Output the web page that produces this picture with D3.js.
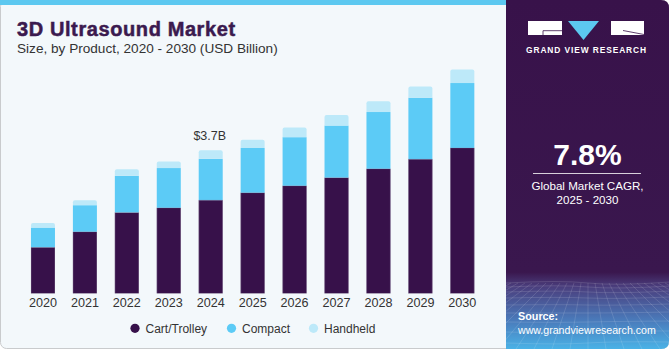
<!DOCTYPE html>
<html>
<head>
<meta charset="utf-8">
<script src="https://cdn.jsdelivr.net/npm/d3@7"></script>
<style>
  html, body { margin: 0; padding: 0; background: #ffffff; }
  svg { display: block; font-family: "Liberation Sans", Arial, sans-serif; }
</style>
</head>
<body>
<svg id="chart" width="671" height="350"></svg>
<script>
// ---- data ----
const years = ["2020","2021","2022","2023","2024","2025","2026","2027","2028","2029","2030"];
const cartTrolley = [1.19, 1.59, 2.09, 2.21, 2.41, 2.60, 2.78, 2.99, 3.22, 3.47, 3.76];
const compact     = [0.51, 0.69, 0.95, 1.03, 1.07, 1.16, 1.26, 1.35, 1.47, 1.59, 1.68];
const handheld    = [0.12, 0.13, 0.17, 0.17, 0.22, 0.21, 0.25, 0.27, 0.28, 0.29, 0.35];
const seriesNames = ["Cart/Trolley", "Compact", "Handheld"];
const seriesColors = ["#37114a", "#5ccbf6", "#bde9f9"];
const annotationYear = "2024";
const annotationText = "$3.7B";

const svg = d3.select("#chart");
const W = 671, H = 350;

// ---- card background ----
svg.append("rect").attr("x", 0.5).attr("y", 0.5).attr("width", W - 3).attr("height", H - 2)
  .attr("rx", 6).attr("fill", "#f3f8fb").attr("stroke", "#c9cbcd").attr("stroke-width", 1);
svg.append("rect").attr("x", 0).attr("y", 0).attr("width", 508).attr("height", 5).attr("fill", "#5cc8f0");

// ---- right panel ----
const defs = svg.append("defs");
const grad = defs.append("linearGradient").attr("id", "pg").attr("x1", 0).attr("y1", 0).attr("x2", 0).attr("y2", 1);
grad.append("stop").attr("offset", "0").attr("stop-color", "#38124a");
grad.append("stop").attr("offset", "0.78").attr("stop-color", "#3a174e");
grad.append("stop").attr("offset", "0.82").attr("stop-color", "#4a3d7c");
grad.append("stop").attr("offset", "0.92").attr("stop-color", "#4a7cbc");
grad.append("stop").attr("offset", "1").attr("stop-color", "#4ab2e6");
const clip = defs.append("clipPath").attr("id", "pc");
const panelPath = "M506,0 H661 Q669,0 669,8 V341 Q669,349 661,349 H506 Z";
clip.append("path").attr("d", panelPath);
svg.append("path").attr("d", panelPath).attr("fill", "url(#pg)");

// grid texture at bottom of panel
const gridG = svg.append("g").attr("clip-path", "url(#pc)")
  .attr("stroke", "#ffffff").attr("stroke-opacity", 0.18).attr("stroke-width", 0.7).attr("fill", "none");
const hz = [283, 287, 292, 298, 305, 313, 322, 332, 343];
hz.forEach((yy, i) => {
  gridG.append("path").attr("d", `M506,${yy} Q560,${yy - 3 + i * 0.6} 588,${yy} T670,${yy - 1}`);
});
for (let k = -14; k <= 14; k++) {
  const x0 = 588 + k * 7;
  const x1 = 588 + k * 18;
  gridG.append("line").attr("x1", x0).attr("y1", 283).attr("x2", x1).attr("y2", 349);
}

// logo
const logo = svg.append("g");
logo.append("rect").attr("x", 528).attr("y", 21).attr("width", 34).attr("height", 14).attr("fill", "#ffffff");
logo.append("path").attr("d", "M543,35 V30.7 H562").attr("stroke", "#38124a").attr("stroke-width", 0.8).attr("fill", "none");
logo.append("path").attr("d", "M568,21 H599 L583.5,40 Z").attr("fill", "#5cc8f0");
logo.append("rect").attr("x", 611).attr("y", 21).attr("width", 33).attr("height", 14).attr("fill", "#ffffff");
logo.append("path").attr("d", "M623,30.5 L644,34.5").attr("stroke", "#38124a").attr("stroke-width", 0.8);
svg.append("text").attr("x", 586.5).attr("y", 53).attr("text-anchor", "middle")
  .attr("fill", "#ffffff").attr("font-size", 8.4).attr("font-weight", "bold").attr("letter-spacing", 0.9)
  .text("GRAND VIEW RESEARCH");

// CAGR block
svg.append("text").attr("x", 587.5).attr("y", 165).attr("text-anchor", "middle")
  .attr("fill", "#ffffff").attr("font-size", 30).attr("font-weight", "bold").text("7.8%");
svg.append("line").attr("x1", 533).attr("x2", 641).attr("y1", 173.5).attr("y2", 173.5)
  .attr("stroke", "#ffffff").attr("stroke-opacity", 0.8).attr("stroke-width", 1);
svg.append("text").attr("x", 587.5).attr("y", 189.5).attr("text-anchor", "middle")
  .attr("fill", "#ffffff").attr("font-size", 11.6).text("Global Market CAGR,");
svg.append("text").attr("x", 587.5).attr("y", 203.5).attr("text-anchor", "middle")
  .attr("fill", "#ffffff").attr("font-size", 11.6).text("2025 - 2030");

svg.append("text").attr("x", 518).attr("y", 319.5).attr("fill", "#ffffff")
  .attr("font-size", 10.8).attr("font-weight", "bold").text("Source:");
svg.append("text").attr("x", 518).attr("y", 333.5).attr("fill", "#ffffff")
  .attr("font-size", 10.6).text("www.grandviewresearch.com");

// ---- titles ----
svg.append("text").attr("x", 17).attr("y", 35.5).attr("fill", "#3b1a4f")
  .attr("stroke", "#3b1a4f").attr("stroke-width", 0.5)
  .attr("font-size", 20).attr("font-weight", "bold").attr("letter-spacing", 0.6).text("3D Ultrasound Market");
svg.append("text").attr("x", 17).attr("y", 53.3).attr("fill", "#333333")
  .attr("font-size", 13.6).text("Size, by Product, 2020 - 2030 (USD Billion)");

// ---- scales ----
const x = d3.scaleBand().domain(years).range([22, 483.3]).paddingInner(0.4276).paddingOuter(0.2138);
const y = d3.scaleLinear().domain([0, 4.5]).range([293.3, 293.3 - 4.5 * 38.65]);

const table = years.map((yr, i) => ({ year: yr, "Cart/Trolley": cartTrolley[i], "Compact": compact[i], "Handheld": handheld[i] }));
const stack = d3.stack().keys(seriesNames)(table);

const barsG = svg.append("g");
stack.forEach((layer, li) => {
  const g = barsG.append("g").attr("fill", seriesColors[li]);
  layer.forEach((d, i) => {
    const x0 = x(years[i]), w = x.bandwidth();
    const yt = y(d[1]), yb = y(d[0]);
    if (li === stack.length - 1) {
      const r = 2;
      g.append("path")
        .attr("d", `M${x0},${yb} V${yt + r} Q${x0},${yt} ${x0 + r},${yt} H${x0 + w - r} Q${x0 + w},${yt} ${x0 + w},${yt + r} V${yb} Z`);
    } else {
      g.append("rect").attr("x", x0).attr("y", yt).attr("width", w).attr("height", yb - yt);
    }
  });
});
// faint edges on bars
stack[0].forEach((d, i) => {
  barsG.append("rect").attr("x", x(years[i]) + 0.3).attr("y", y(d[1]))
    .attr("width", x.bandwidth() - 0.6).attr("height", y(d[0]) - y(d[1]))
    .attr("fill", "none").attr("stroke", "#8a7a9a").attr("stroke-opacity", 0.45).attr("stroke-width", 0.6);
});

// x axis labels
const xAxis = d3.axisBottom(x).tickSize(0).tickPadding(0);
const axG = svg.append("g").attr("transform", "translate(0,296)").call(xAxis);
axG.select(".domain").remove();
axG.selectAll("text").attr("font-size", 12.6).attr("fill", "#333333")
  .attr("font-family", "Liberation Sans, Arial, sans-serif").attr("dy", "0.85em");

// annotation
const ai = years.indexOf(annotationYear);
const total = cartTrolley[ai] + compact[ai] + handheld[ai];
svg.append("text").attr("x", x(annotationYear) + x.bandwidth() / 2 - 1).attr("y", y(total) - 10)
  .attr("text-anchor", "middle").attr("font-size", 12.5).attr("fill", "#333333").text(annotationText);

// legend
const legendX = [135, 231.5, 313.5];
const lg = svg.append("g");
seriesNames.forEach((n, i) => {
  lg.append("circle").attr("cx", legendX[i]).attr("cy", 328.3).attr("r", 4.6).attr("fill", seriesColors[i]);
  lg.append("text").attr("x", legendX[i] + 10.5).attr("y", 332.5).attr("font-size", 12)
    .attr("fill", "#333333").text(n);
});
</script>
</body>
</html>
